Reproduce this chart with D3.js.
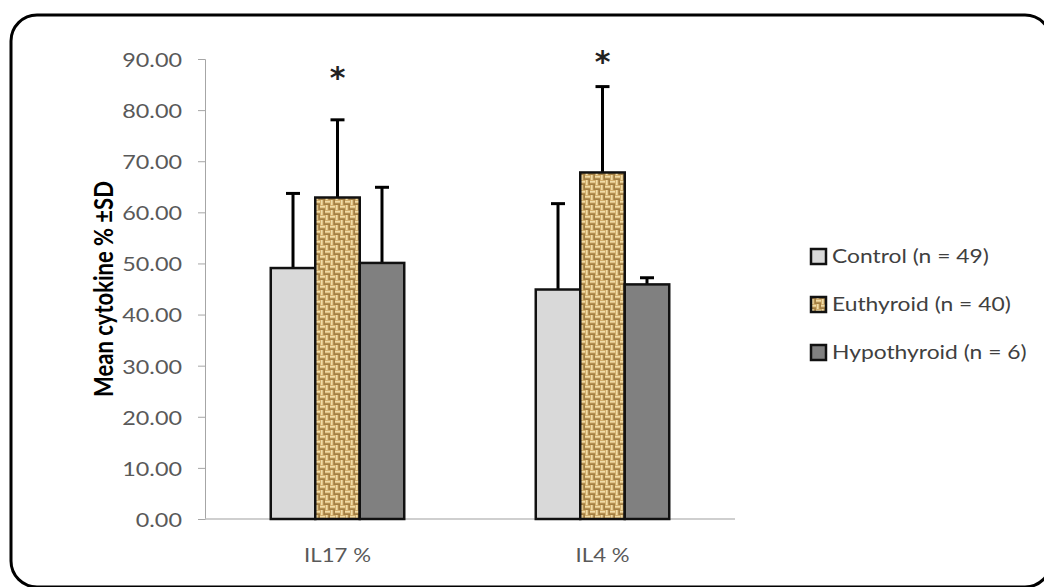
<!DOCTYPE html>
<html>
<head>
<meta charset="utf-8">
<script src="https://cdn.jsdelivr.net/npm/d3@7"></script>
<style>
  body { margin: 0; background: #fff; }
  svg { display: block; }
  text { font-family: Lato, "Open Sans", sans-serif; }
</style>
</head>
<body>
<svg id="chart"></svg>
<script>
// Data
const categories = ["IL17 %", "IL4 %"];
const series = ["Control (n = 49)", "Euthyroid (n = 40)", "Hypothyroid (n = 6)"];
const means = [
  [49.1, 62.9, 50.1],   // IL17 %
  [44.9, 67.8, 45.9]    // IL4 %
];
const sds = [
  [14.6, 15.2, 14.8],
  [16.8, 16.8, 1.3]
];
const starValues = [87.2, 90.4]; // asterisk above Euthyroid
const yTicks = [0, 10, 20, 30, 40, 50, 60, 70, 80, 90];

const width = 1044, height = 587;
const stretch = 1.17; // text in the picture is a bit wide

const svg = d3.select("#chart")
  .attr("width", width)
  .attr("height", height);

// wicker fill for Euthyroid
const defs = svg.append("defs");
const pat = defs.append("pattern")
  .attr("id", "wicker")
  .attr("patternUnits", "userSpaceOnUse")
  .attr("width", 10)
  .attr("height", 10);
pat.append("rect").attr("width", 10).attr("height", 10).attr("fill", "#d2ae6c");
const light = "#f0dca8", dark = "#96733a";
[[0, 1, 5, 1.5, light], [0, 3.5, 5, 1.3, dark],
 [6, 0, 1.5, 5, light], [8.5, 0, 1.3, 5, dark],
 [1, 5, 1.5, 5, light], [3.5, 5, 1.3, 5, dark],
 [5, 6, 5, 1.5, light], [5, 8.5, 5, 1.3, dark]].forEach(r => {
  pat.append("rect").attr("x", r[0]).attr("y", r[1])
    .attr("width", r[2]).attr("height", r[3]).attr("fill", r[4]);
});

const fills = ["#d9d9d9", "url(#wicker)", "#808080"];

// rounded frame (runs off the right and bottom edges)
svg.append("rect")
  .attr("x", 11).attr("y", 15)
  .attr("width", 1040).attr("height", 572)
  .attr("rx", 26)
  .attr("fill", "none")
  .attr("stroke", "#000")
  .attr("stroke-width", 3);

// scales
const x0 = d3.scaleBand().domain(categories).range([205, 735]).padding(0);
const x1 = d3.scaleBand().domain(series).range([0, x0.bandwidth()])
  .paddingInner(0).paddingOuter(1.478);
const y = d3.scaleLinear().domain([0, 90]).range([519, 59]);

// y axis
const yAxis = svg.append("g")
  .attr("transform", "translate(205,0)")
  .call(d3.axisLeft(y).tickValues(yTicks).tickSize(7).tickPadding(12).tickFormat(d3.format(".2f")));
yAxis.select(".domain").attr("stroke", "#a6a6a6");
yAxis.selectAll(".tick line").attr("stroke", "#a6a6a6");
yAxis.selectAll(".tick text")
  .attr("fill", "#595959")
  .style("font-size", "20px")
  .attr("x", null).attr("dy", null)
  .attr("dominant-baseline", "central")
  .attr("transform", `translate(-23,0) scale(${stretch},1)`);

// x axis line
svg.append("line")
  .attr("x1", 205).attr("x2", 735)
  .attr("y1", y(0)).attr("y2", y(0))
  .attr("stroke", "#bfbfbf").attr("stroke-width", 1.5);

// x labels
svg.selectAll(".xlab")
  .data(categories)
  .enter().append("text")
  .attr("class", "xlab")
  .attr("transform", d => `translate(${x0(d) + x0.bandwidth() / 2},555) scale(${stretch},1)`)
  .attr("text-anchor", "middle")
  .attr("dominant-baseline", "central")
  .attr("fill", "#595959")
  .style("font-size", "19px")
  .text(d => d);

// bars
const groups = svg.selectAll(".grp")
  .data(categories)
  .enter().append("g")
  .attr("class", "grp")
  .attr("transform", d => `translate(${x0(d)},0)`);

groups.each(function (cat, ci) {
  const g = d3.select(this);
  series.forEach((s, si) => {
    const v = means[ci][si];
    const cx = x1(s) + x1.bandwidth() / 2;
    const top = y(v + sds[ci][si]);
    // error bar (upper only)
    g.append("line")
      .attr("x1", cx).attr("x2", cx)
      .attr("y1", y(v)).attr("y2", top)
      .attr("stroke", "#000").attr("stroke-width", 3);
    g.append("line")
      .attr("x1", cx - 7).attr("x2", cx + 7)
      .attr("y1", top).attr("y2", top)
      .attr("stroke", "#000").attr("stroke-width", 3);
  });
  g.selectAll("rect.bar")
    .data(series)
    .enter().append("rect")
    .attr("class", "bar")
    .attr("x", s => x1(s))
    .attr("y", (s, si) => y(means[ci][si]))
    .attr("width", x1.bandwidth())
    .attr("height", (s, si) => y(0) - y(means[ci][si]))
    .attr("fill", (s, si) => fills[si])
    .attr("stroke", "#111")
    .attr("stroke-width", 2.5);
  // asterisk
  g.append("text")
    .attr("x", x1(series[1]) + x1.bandwidth() / 2)
    .attr("y", y(starValues[ci]) + 15)
    .attr("text-anchor", "middle")
    .attr("fill", "#222")
    .style("font-family", "'DejaVu Sans', sans-serif")
    .style("font-size", "30px")
    .style("font-weight", "bold")
    .text("*");
});

// y axis title
svg.append("text")
  .attr("transform", `translate(103,${y(45)}) rotate(-90) scale(1,${stretch})`)
  .attr("text-anchor", "middle")
  .attr("dominant-baseline", "central")
  .style("font-size", "22px")
  .style("font-weight", "bold")
  .attr("fill", "#000")
  .text("Mean cytokine % ±SD");

// legend
const legend = svg.selectAll(".legend")
  .data(series)
  .enter().append("g")
  .attr("class", "legend")
  .attr("transform", (d, i) => `translate(811,${256 + i * 48})`);

legend.append("rect")
  .attr("x", 0).attr("y", -7)
  .attr("width", 15).attr("height", 15)
  .attr("fill", (d, i) => fills[i])
  .attr("stroke", "#111")
  .attr("stroke-width", 2.5);

legend.append("text")
  .attr("transform", `translate(21,0) scale(${stretch},1)`)
  .attr("dominant-baseline", "central")
  .attr("fill", "#404040")
  .style("font-size", "19.5px")
  .text(d => d);
</script>
</body>
</html>
